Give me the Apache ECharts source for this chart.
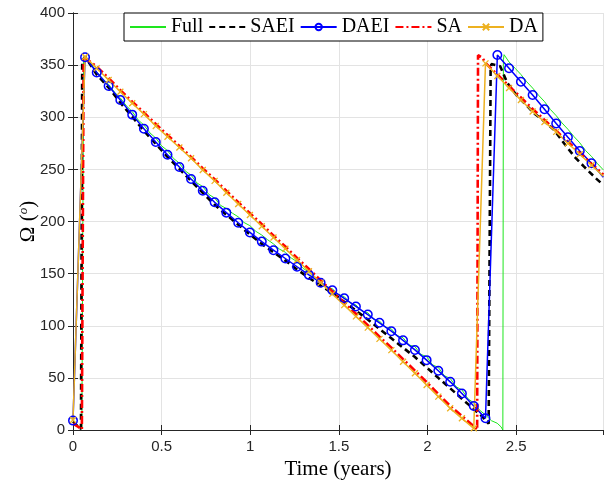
<!DOCTYPE html>
<html>
<head>
<meta charset="utf-8">
<script src="https://cdn.jsdelivr.net/npm/echarts@6/dist/echarts.min.js"></script>
<style>
  body { margin: 0; background: #fff; }
  #main { width: 606px; height: 488px; }
</style>
</head>
<body>
<div id="main"></div>
<script>
// sample times (years) of the DAEI / DA runs
var tGrid = [0, 0.068, 0.134, 0.201, 0.267, 0.334, 0.400, 0.467, 0.533, 0.600,
    0.666, 0.732, 0.799, 0.865, 0.932, 0.998, 1.065, 1.131, 1.198, 1.264,
    1.331, 1.397, 1.463, 1.530, 1.596, 1.663, 1.729, 1.796, 1.862, 1.929,
    1.995, 2.061, 2.128, 2.194, 2.261, 2.327, 2.394, 2.460, 2.527, 2.593,
    2.660, 2.726, 2.792, 2.859, 2.925, 2.992];

var daeiVals = [9, 357.5, 343, 330, 316.5, 302.5, 289, 276.3, 264, 252.3,
    240.8, 229.5, 218.5, 208.5, 198.8, 189.5, 180.7, 172.5, 164.5, 156.6,
    148.8, 141.3, 134, 126.3, 118.5, 110.7, 102.8, 94.8, 86, 76.8,
    67, 56.8, 46.2, 35, 23, 11.2, 359.7, 347, 334, 321.3,
    307.6, 294, 280.8, 267.6, 255.8, 242.4];

var daVals = [9.6, 358, 347, 335.7, 324.5, 313.4, 303, 291.6, 281.3, 271,
    260.6, 249.4, 239, 227.6, 216.8, 206.2, 195.4, 184.6, 173.8, 163,
    152.2, 141.4, 130.6, 119.8, 109, 98.2, 87.4, 76.6, 65.5, 54.4,
    43.2, 32, 20.8, 11.2, 1.6, 351.7, 339.6, 328, 316.5, 305.5,
    295.5, 286, 275, 264.5, 254, 243.5];

// SA run
var saT = [0, 0.03, 0.05, 0.056, 0.06, 0.068, 0.134, 0.201, 0.267, 0.334,
    0.400, 0.467, 0.533, 0.600, 0.666, 0.732, 0.799, 0.865, 0.932, 0.998,
    1.065, 1.131, 1.198, 1.264, 1.331, 1.397, 1.463, 1.530, 1.596, 1.663,
    1.729, 1.796, 1.862, 1.929, 1.995, 2.061, 2.128, 2.194, 2.261, 2.28,
    2.285, 2.31, 2.327, 2.394, 2.460, 2.527, 2.593, 2.660, 2.726, 2.792,
    2.859, 2.925, 2.992];
var saVals = [6, 3, 0.5, 0, 358, 359, 348.5, 337.5, 326, 315,
    304.5, 293.5, 283, 272.5, 262, 251, 240.5, 229.5, 218.5, 208,
    197.5, 186.5, 176, 165, 154.5, 143.5, 133, 122, 111.5, 100.5,
    89.5, 79, 68, 57, 46, 34.5, 23, 13.5, 3.5, 0,
    359.5, 357, 352, 341, 330, 319, 308, 297.5, 287, 276.5,
    266, 255.5, 245];

// SAEI run
var saeiT = [0, 0.03, 0.045, 0.049, 0.052, 0.068, 0.134, 0.201, 0.267, 0.334,
    0.400, 0.467, 0.533, 0.600, 0.666, 0.732, 0.799, 0.865, 0.932, 0.998,
    1.065, 1.131, 1.198, 1.264, 1.331, 1.397, 1.463, 1.530, 1.596, 1.663,
    1.729, 1.796, 1.862, 1.929, 1.995, 2.061, 2.128, 2.194, 2.261, 2.31,
    2.345, 2.353, 2.356, 2.36, 2.41, 2.45, 2.507, 2.55, 2.6, 2.66,
    2.713, 2.77, 2.83, 2.883, 2.95, 2.992];
var saeiVals = [8, 3, 1, 0, 354, 358, 341, 328.5, 314, 300.5,
    287, 274.5, 262, 250.5, 239, 227.5, 216, 206.5, 197, 187.5,
    178.5, 170.5, 162.5, 154, 146, 138.5, 131.5, 123, 114.5, 106,
    97, 88, 79, 70, 60, 50, 40, 30, 20, 12.8,
    6, 5, 345, 351, 349, 333, 320, 313, 304, 296,
    288, 275, 262, 252.6, 241.4, 235];

// Full model
var fullT = [0, 0.03, 0.05, 0.056, 0.06, 0.068, 0.101, 0.134, 0.168, 0.201,
    0.234, 0.267, 0.301, 0.334, 0.367, 0.400, 0.434, 0.467, 0.500, 0.533,
    0.567, 0.600, 0.633, 0.666, 0.699, 0.732, 0.766, 0.799, 0.832, 0.865,
    0.899, 0.932, 0.965, 0.998, 1.032, 1.065, 1.098, 1.131, 1.165, 1.198,
    1.231, 1.264, 1.298, 1.331, 1.364, 1.397, 1.430, 1.463, 1.497, 1.530,
    1.563, 1.596, 1.630, 1.663, 1.696, 1.729, 1.763, 1.796, 1.829, 1.862,
    1.896, 1.929, 1.962, 1.995, 2.028, 2.061, 2.095, 2.128, 2.161, 2.194,
    2.228, 2.261, 2.294, 2.327, 2.36, 2.393, 2.415, 2.425, 2.428, 2.432,
    2.46, 2.494, 2.527, 2.56, 2.593, 2.627, 2.66, 2.693, 2.726, 2.759,
    2.792, 2.826, 2.859, 2.892, 2.925, 2.959, 2.992];
var fullVals = [8, 4, 1, 0, 356, 359, 351.5, 343.5, 337, 331.5,
    324, 318.5, 311, 305.5, 297.5, 292.5, 285, 280, 272.5, 268,
    260.5, 256, 248.5, 244.5, 237, 233.5, 226, 222.5, 215.5, 212.5,
    208, 204.5, 199, 196, 190.5, 187, 182.5, 178.5, 173.5, 170.5,
    165, 161.5, 155, 151.5, 145.5, 142.5, 137.5, 135.5, 130, 128,
    122, 120, 114, 112.5, 106, 104.5, 98.5, 97, 90.5, 88.5,
    81.5, 80, 72.5, 70.5, 62.5, 60, 52, 49.5, 41.5, 38.5,
    30, 26, 19, 14.5, 9, 6.5, 3, 0, 355, 360,
    353, 347, 341, 334, 328, 321, 315, 307.5, 301.5, 294.5,
    288.5, 281.5, 275.5, 268, 262.5, 255.5, 249.5];

var xTicks = [0, 0.5, 1, 1.5, 2, 2.5];

function pairs(ts, vs) {
    var out = [];
    for (var i = 0; i < ts.length; i++) out.push([ts[i], vs[i]]);
    return out;
}

var myChart = echarts.init(document.getElementById('main'));
var serif = 'Liberation Serif';
var axisColor = '#262626';
var noMark = { opacity: 0 };

var option = {
    animation: false,
    backgroundColor: '#fff',
    grid: { left: 73, right: 3, top: 13, bottom: 58, show: false },
    legend: {
        left: 124, top: 13,
        padding: [4, 5, 4, 5],
        itemGap: 5,
        itemWidth: 36,
        itemHeight: 8,
        backgroundColor: '#fff',
        borderColor: '#000',
        borderWidth: 1,
        selectedMode: false,
        textStyle: { fontFamily: serif, fontSize: 20, color: '#000', padding: [2, 0, 0, 0] },
        data: [
            { name: 'Full', itemStyle: noMark },
            { name: 'SAEI', itemStyle: noMark },
            { name: 'DAEI' },
            { name: 'SA', itemStyle: noMark },
            { name: 'DA' }
        ]
    },
    xAxis: [{
        type: 'value', min: 0, max: 2.99, interval: 0.5, position: 'bottom',
        name: 'Time (years)', nameLocation: 'middle', nameGap: 28,
        nameTextStyle: { fontFamily: serif, fontSize: 21, color: '#000' },
        axisLine: { show: true, lineStyle: { color: axisColor, width: 1 } },
        axisTick: { inside: true, length: 5, lineStyle: { color: axisColor } },
        axisLabel: {
            fontFamily: 'Liberation Sans', fontSize: 15, color: axisColor, margin: 9,
            showMaxLabel: false,
            formatter: function (v) { return xTicks.indexOf(v) >= 0 ? String(v) : ''; }
        },
        splitLine: { show: true, lineStyle: { color: '#e3e3e3', width: 1 } }
    }, {
        type: 'value', min: 0, max: 2.99, interval: 0.5, position: 'top',
        axisLine: { show: true, lineStyle: { color: axisColor, width: 1 } },
        axisTick: { inside: true, length: 5, lineStyle: { color: axisColor } },
        axisLabel: { show: false },
        splitLine: { show: false }
    }],
    yAxis: [{
        type: 'value', min: 0, max: 400, interval: 50, position: 'left',
        name: '{a|Ω (}{s|o}{a|)}', nameLocation: 'middle', nameGap: 33, nameRotate: 90,
        nameMoveOverlap: false,
        nameTextStyle: {
            color: '#000',
            rich: {
                a: { fontFamily: serif, fontSize: 21, color: '#000' },
                s: { fontFamily: serif, fontStyle: 'italic', fontSize: 13, color: '#000', padding: [0, 0, 10, 0] }
            }
        },
        axisLine: { show: true, lineStyle: { color: axisColor, width: 1 } },
        axisTick: { inside: true, length: 5, lineStyle: { color: axisColor } },
        axisLabel: { fontFamily: 'Liberation Sans', fontSize: 15, color: axisColor, margin: 8 },
        splitLine: { show: true, lineStyle: { color: '#e3e3e3', width: 1 } }
    }, {
        type: 'value', min: 0, max: 400, interval: 50, position: 'right',
        axisLine: { show: true, lineStyle: { color: axisColor, width: 1 } },
        axisTick: { inside: true, length: 5, lineStyle: { color: axisColor } },
        axisLabel: { show: false },
        splitLine: { show: false }
    }],
    series: [
        {
            name: 'Full', type: 'line', symbol: 'none',
            data: pairs(fullT, fullVals),
            itemStyle: { color: '#1ee61e' },
            lineStyle: { color: '#1ee61e', width: 1 }
        },
        {
            name: 'SAEI', type: 'line', symbol: 'none',
            data: pairs(saeiT, saeiVals),
            itemStyle: { color: '#000' },
            lineStyle: { color: '#000', width: 2.6, type: [6, 4] }
        },
        {
            name: 'DAEI', type: 'line', symbol: 'circle', symbolSize: 8.5,
            data: pairs(tGrid, daeiVals),
            itemStyle: { color: 'rgba(255,255,255,0)', borderColor: '#0000ff', borderWidth: 1.5 },
            lineStyle: { color: '#0000ff', width: 1.5 }
        },
        {
            name: 'SA', type: 'line', symbol: 'none',
            data: pairs(saT, saVals),
            itemStyle: { color: '#ff0000' },
            lineStyle: { color: '#ff0000', width: 2.6, type: [8, 3, 2, 3] }
        },
        {
            name: 'DA', type: 'line', symbol: 'path://M0 0L10 10M10 0L0 10', symbolSize: 6,
            data: pairs(tGrid, daVals),
            itemStyle: { color: '#EDB120', borderColor: '#EDB120', borderWidth: 1.3 },
            lineStyle: { color: '#EDB120', width: 1.5 }
        }
    ]
};

myChart.setOption(option);
window.addEventListener('resize', function () {
    myChart.resize();
});
</script>
</body>
</html>
